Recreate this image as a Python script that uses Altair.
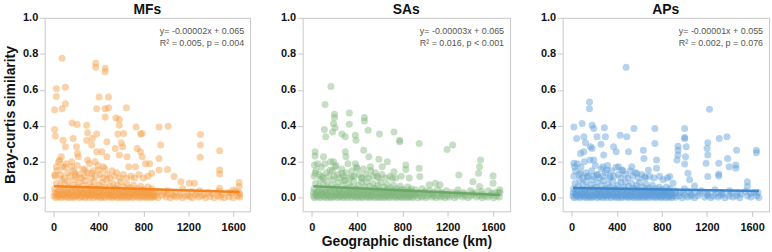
import altair as alt
import pandas as pd

FONT = "Liberation Sans"

panel_names = ["MFs", "SAs", "APs"]
slopes = [-0.00002, -0.00003, -0.00001]
intercepts = [0.065, 0.065, 0.055]
eq_texts = ["y= -0.00002x + 0.065", "y= -0.00003x + 0.065", "y= -0.00001x + 0.055"]
stat_texts = ["R² = 0.005, p = 0.004", "R² = 0.016, p < 0.001", "R² = 0.002, p = 0.076"]
point_colors = ["#f39d45", "#80b67d", "#5e9dd8"]
line_colors = ["#f5841f", "#6aa866", "#3f87cc"]
x_ticks = [0, 400, 800, 1200, 1600]
y_ticks = [0.0, 0.2, 0.4, 0.6, 0.8, 1.0]

# MFs (distance km, Bray-Curtis similarity)
mf_points = [
    (75, 0.775), (375, 0.748), (375, 0.726), (459, 0.72), (459, 0.70), (24, 0.606), (105, 0.615),
    (24, 0.563), (9, 0.49), (75, 0.495), (105, 0.523), (405, 0.56), (489, 0.56), (384, 0.495),
    (459, 0.495), (489, 0.50), (459, 0.449), (648, 0.50), (555, 0.444), (585, 0.436), (585, 0.403),
    (573, 0.354), (9, 0.379), (15, 0.343), (165, 0.416), (210, 0.407), (294, 0.403), (303, 0.361),
    (345, 0.33), (294, 0.32), (339, 0.293), (174, 0.33), (204, 0.284), (213, 0.247), (384, 0.354),
    (735, 0.394), (774, 0.354), (789, 0.357), (939, 0.394), (1020, 0.398), (954, 0.293), (939, 0.219),
    (1014, 0.158), (939, 0.155), (1308, 0.352), (1308, 0.293), (1305, 0.225), (1479, 0.262),
    (1479, 0.155), (1479, 0.133), (1653, 0.085), (1653, 0.063), (744, 0.274), (774, 0.256),
    (789, 0.228), (729, 0.173), (819, 0.19), (855, 0.19), (873, 0.136), (624, 0.357), (615, 0.284),
    (654, 0.228), (669, 0.173), (603, 0.306), (549, 0.274), (585, 0.238), (474, 0.311), (429, 0.256),
    (474, 0.228), (444, 0.173), (384, 0.256), (369, 0.2), (399, 0.155), (303, 0.21), (279, 0.155),
    (339, 0.136), (219, 0.228), (159, 0.173), (189, 0.136), (84, 0.32), (105, 0.284), (54, 0.21),
    (99, 0.173), (24, 0.173), (9, 0.127), (69, 0.228), (1134, 0.09), (1209, 0.081), (1254, 0.081),
    (1074, 0.118), (1479, 0.053), (1599, 0.044),
    (5, 0.01), (18, 0.0), (30, 0.02), (42, 0.005), (55, 0.015), (68, 0.0), (80, 0.01), (92, 0.02),
    (105, 0.005), (118, 0.012), (130, 0.0), (142, 0.018), (155, 0.008), (168, 0.0), (180, 0.015),
    (192, 0.004), (205, 0.01), (218, 0.02), (230, 0.0), (242, 0.012), (255, 0.006), (268, 0.018),
    (280, 0.0), (292, 0.01), (305, 0.015), (318, 0.002), (330, 0.012), (342, 0.02), (355, 0.0),
    (368, 0.01), (380, 0.016), (392, 0.004), (405, 0.01), (418, 0.0), (430, 0.018), (442, 0.008),
    (455, 0.0), (468, 0.012), (480, 0.02), (492, 0.005), (505, 0.01), (518, 0.0), (530, 0.015),
    (542, 0.006), (555, 0.012), (568, 0.0), (580, 0.018), (592, 0.008), (605, 0.0), (618, 0.012),
    (630, 0.004), (642, 0.016), (655, 0.0), (668, 0.01), (680, 0.005), (692, 0.015), (705, 0.0),
    (718, 0.01), (730, 0.02), (742, 0.004), (755, 0.01), (768, 0.0), (780, 0.015), (792, 0.006),
    (805, 0.01), (818, 0.0), (830, 0.012), (842, 0.004), (855, 0.018), (868, 0.0), (880, 0.01),
    (892, 0.005), (905, 0.01), (930, 0.0), (962, 0.015), (1000, 0.005), (1012, 0.02), (1040, 0.0),
    (1068, 0.01), (1095, 0.004), (1120, 0.012), (1150, 0.0), (1178, 0.01), (1210, 0.006),
    (1235, 0.0), (1262, 0.015), (1290, 0.004), (1320, 0.01), (1352, 0.0), (1392, 0.008),
    (1430, 0.0), (1462, 0.012), (1485, 0.004), (1520, 0.0), (1562, 0.008), (1600, 0.0),
    (1640, 0.012), (1658, 0.004), (1658, 0.02),
    (10, 0.05), (25, 0.08), (40, 0.035), (58, 0.065), (72, 0.1), (88, 0.045), (100, 0.075),
    (115, 0.03), (128, 0.09), (140, 0.055), (158, 0.04), (172, 0.07), (186, 0.1), (198, 0.035),
    (212, 0.06), (226, 0.085), (240, 0.045), (254, 0.03), (266, 0.07), (280, 0.095), (296, 0.05),
    (310, 0.035), (322, 0.075), (336, 0.06), (350, 0.04), (362, 0.09), (378, 0.05), (390, 0.03),
    (404, 0.07), (418, 0.045), (432, 0.085), (446, 0.035), (460, 0.06), (474, 0.1), (488, 0.04),
    (500, 0.065), (515, 0.03), (528, 0.08), (542, 0.05), (556, 0.035), (570, 0.07), (584, 0.045),
    (598, 0.09), (612, 0.03), (626, 0.06), (640, 0.04), (654, 0.075), (668, 0.03), (684, 0.055),
    (698, 0.04), (712, 0.07), (728, 0.03), (744, 0.05), (760, 0.035), (776, 0.065), (790, 0.03),
    (808, 0.045), (824, 0.03), (840, 0.06), (858, 0.035), (874, 0.05), (890, 0.03),
    (940, 0.035), (1010, 0.04), (1080, 0.03), (1150, 0.05), (1230, 0.035), (1300, 0.04),
    (1380, 0.03), (1470, 0.035), (1560, 0.03), (1620, 0.035),
    (15, 0.12), (30, 0.15), (45, 0.2), (62, 0.13), (78, 0.17), (95, 0.11), (110, 0.19), (125, 0.14),
    (145, 0.12), (160, 0.2), (178, 0.15), (195, 0.12), (210, 0.18), (228, 0.13), (245, 0.11),
    (262, 0.16), (278, 0.12), (300, 0.14), (318, 0.19), (335, 0.11), (352, 0.15), (372, 0.12),
    (395, 0.18), (415, 0.13), (438, 0.11), (455, 0.16), (478, 0.13), (500, 0.11), (520, 0.15),
    (540, 0.12), (562, 0.14), (590, 0.11), (620, 0.13), (650, 0.11), (690, 0.12), (720, 0.11),
    (760, 0.13), (800, 0.11), (840, 0.12),
    (12, 0.03), (36, 0.025), (62, 0.04), (86, 0.03), (112, 0.045), (136, 0.025), (164, 0.035),
    (190, 0.05), (214, 0.025), (236, 0.04), (262, 0.03), (286, 0.045), (312, 0.025), (334, 0.04),
    (360, 0.03), (386, 0.05), (410, 0.025), (436, 0.035), (462, 0.045), (486, 0.025), (512, 0.04),
    (536, 0.03), (562, 0.05), (588, 0.025), (612, 0.04), (636, 0.03), (662, 0.045), (688, 0.025),
    (714, 0.035), (738, 0.04), (764, 0.025), (788, 0.045), (812, 0.03), (836, 0.025), (862, 0.04),
    (886, 0.02), (918, 0.025), (985, 0.03), (1055, 0.02), (1135, 0.025), (1195, 0.02),
    (1275, 0.025), (1340, 0.02), (1410, 0.025), (1500, 0.02), (1585, 0.025), (1650, 0.03),
]

# SAs
sa_points = [
    (169, 0.619), (118, 0.519), (201, 0.464), (201, 0.446), (332, 0.471), (465, 0.446), (465, 0.427),
    (112, 0.379), (124, 0.339), (192, 0.413), (207, 0.39), (184, 0.366), (267, 0.354), (296, 0.339),
    (385, 0.348), (391, 0.32), (332, 0.409), (498, 0.376), (598, 0.354), (726, 0.366), (776, 0.32),
    (776, 0.311), (948, 0.302), (1194, 0.269), (1244, 0.293), (30, 0.256), (30, 0.232), (24, 0.182),
    (30, 0.136), (104, 0.228), (192, 0.2), (207, 0.173), (163, 0.155), (296, 0.256), (302, 0.228),
    (385, 0.19), (400, 0.164), (504, 0.228), (518, 0.173), (459, 0.265), (593, 0.214), (622, 0.173),
    (667, 0.2), (830, 0.182), (830, 0.158), (948, 0.164), (954, 0.118), (1490, 0.21), (1481, 0.173),
    (1472, 0.136), (1298, 0.127), (1600, 0.122), (1037, 0.072), (1132, 0.072), (1090, 0.081),
    (1422, 0.09), (1481, 0.063), (1600, 0.081), (726, 0.145), (711, 0.109), (267, 0.136),
    (89, 0.118), (355, 0.118), (296, 0.1), (444, 0.109), (578, 0.118),
    (15, 0.01), (26, 0.0), (38, 0.018), (50, 0.006), (62, 0.014), (74, 0.0), (86, 0.01), (98, 0.02),
    (110, 0.004), (122, 0.012), (134, 0.0), (146, 0.016), (158, 0.008), (170, 0.0), (182, 0.014),
    (194, 0.004), (206, 0.01), (218, 0.02), (230, 0.0), (242, 0.012), (254, 0.006), (266, 0.016),
    (278, 0.0), (290, 0.01), (302, 0.014), (314, 0.002), (326, 0.012), (338, 0.02), (350, 0.0),
    (362, 0.01), (374, 0.016), (386, 0.004), (398, 0.01), (410, 0.0), (422, 0.018), (434, 0.008),
    (446, 0.0), (458, 0.012), (470, 0.02), (482, 0.005), (494, 0.01), (506, 0.0), (518, 0.015),
    (530, 0.006), (542, 0.012), (554, 0.0), (566, 0.018), (578, 0.008), (590, 0.0), (602, 0.012),
    (614, 0.004), (626, 0.016), (638, 0.0), (650, 0.01), (662, 0.005), (674, 0.015), (686, 0.0),
    (698, 0.01), (710, 0.02), (722, 0.004), (734, 0.01), (746, 0.0), (758, 0.015), (770, 0.006),
    (782, 0.01), (794, 0.0), (806, 0.012), (818, 0.004), (830, 0.018), (842, 0.0), (854, 0.01),
    (866, 0.005), (878, 0.012), (890, 0.0), (905, 0.01), (920, 0.02), (938, 0.0), (955, 0.012),
    (972, 0.004), (990, 0.015), (1008, 0.0), (1025, 0.01), (1045, 0.02), (1062, 0.004),
    (1080, 0.012), (1098, 0.0), (1118, 0.015), (1135, 0.005), (1155, 0.01), (1175, 0.0),
    (1195, 0.012), (1215, 0.004), (1238, 0.016), (1262, 0.0), (1285, 0.01), (1305, 0.02),
    (1330, 0.004), (1355, 0.012), (1380, 0.0), (1405, 0.01), (1430, 0.018), (1455, 0.004),
    (1480, 0.012), (1505, 0.0), (1530, 0.01), (1555, 0.004), (1580, 0.015), (1605, 0.0),
    (1630, 0.01), (1655, 0.004), (1660, 0.03), (1660, 0.045),
    (20, 0.05), (34, 0.08), (48, 0.035), (64, 0.065), (78, 0.1), (92, 0.045), (106, 0.075),
    (120, 0.03), (134, 0.09), (148, 0.055), (162, 0.04), (176, 0.07), (190, 0.1), (204, 0.035),
    (218, 0.06), (232, 0.085), (246, 0.045), (260, 0.03), (274, 0.07), (288, 0.095), (302, 0.05),
    (316, 0.035), (330, 0.075), (344, 0.06), (358, 0.04), (372, 0.09), (386, 0.05), (400, 0.03),
    (414, 0.07), (428, 0.045), (442, 0.085), (456, 0.035), (470, 0.06), (484, 0.09), (498, 0.04),
    (512, 0.065), (526, 0.03), (540, 0.08), (554, 0.05), (568, 0.035), (582, 0.07), (596, 0.045),
    (610, 0.085), (624, 0.03), (638, 0.06), (652, 0.04), (666, 0.075), (680, 0.03), (694, 0.055),
    (708, 0.04), (722, 0.07), (736, 0.03), (750, 0.05), (766, 0.035), (782, 0.065), (798, 0.03),
    (814, 0.045), (830, 0.03), (846, 0.06), (862, 0.035), (878, 0.05), (894, 0.03), (915, 0.045),
    (945, 0.03), (975, 0.05), (1005, 0.035), (1040, 0.04), (1075, 0.03), (1110, 0.045),
    (1150, 0.03), (1190, 0.04), (1240, 0.03), (1290, 0.045), (1340, 0.03), (1400, 0.04),
    (1450, 0.03), (1500, 0.035), (1560, 0.04), (1620, 0.03),
    (22, 0.12), (36, 0.15), (52, 0.19), (68, 0.13), (84, 0.17), (100, 0.11), (116, 0.19),
    (130, 0.14), (150, 0.12), (166, 0.2), (182, 0.15), (198, 0.12), (214, 0.18), (230, 0.13),
    (248, 0.11), (264, 0.16), (280, 0.12), (304, 0.14), (320, 0.19), (338, 0.11), (356, 0.15),
    (376, 0.12), (396, 0.17), (416, 0.13), (438, 0.11), (456, 0.16), (478, 0.13), (500, 0.11),
    (520, 0.15), (540, 0.12), (562, 0.14), (590, 0.11), (620, 0.13), (650, 0.11), (690, 0.12),
    (740, 0.11), (790, 0.12), (860, 0.11),
    (16, 0.03), (40, 0.025), (66, 0.04), (90, 0.03), (116, 0.045), (140, 0.025), (168, 0.035),
    (194, 0.05), (218, 0.025), (240, 0.04), (266, 0.03), (290, 0.045), (316, 0.025), (338, 0.04),
    (364, 0.03), (390, 0.05), (414, 0.025), (440, 0.035), (466, 0.045), (490, 0.025), (516, 0.04),
    (540, 0.03), (566, 0.05), (592, 0.025), (616, 0.04), (640, 0.03), (666, 0.045), (692, 0.025),
    (718, 0.035), (742, 0.04), (768, 0.025), (792, 0.045), (816, 0.03), (840, 0.025), (866, 0.04),
    (890, 0.02), (925, 0.025), (990, 0.03), (1060, 0.02), (1140, 0.025), (1200, 0.02),
    (1280, 0.025), (1345, 0.02), (1415, 0.025), (1505, 0.02), (1590, 0.025), (1648, 0.03),
]

# APs
ap_points = [
    (483, 0.726), (158, 0.532), (158, 0.495), (1222, 0.492), (20, 0.394), (93, 0.413), (181, 0.403),
    (196, 0.385), (290, 0.39), (553, 0.385), (738, 0.385), (1002, 0.385), (1002, 0.335),
    (1002, 0.33), (44, 0.33), (108, 0.339), (123, 0.306), (225, 0.339), (299, 0.339), (430, 0.348),
    (489, 0.339), (372, 0.284), (395, 0.256), (260, 0.298), (504, 0.256), (636, 0.265),
    (641, 0.219), (738, 0.302), (753, 0.21), (753, 0.164), (943, 0.287), (943, 0.265),
    (943, 0.238), (934, 0.21), (1016, 0.284), (1010, 0.228), (1002, 0.188), (1031, 0.136),
    (1046, 0.1), (1090, 0.066), (1207, 0.306), (1201, 0.274), (1207, 0.238), (1192, 0.192),
    (1207, 0.118), (1309, 0.33), (1304, 0.192), (1304, 0.133), (1304, 0.122), (1377, 0.339),
    (1383, 0.219), (1397, 0.173), (1462, 0.265), (1456, 0.182), (1456, 0.164), (1638, 0.265),
    (1638, 0.25), (1558, 0.09), (1558, 0.063), (20, 0.192), (26, 0.173), (79, 0.247), (108, 0.256),
    (167, 0.284), (181, 0.274), (196, 0.21), (284, 0.238), (278, 0.173), (313, 0.155), (416, 0.173),
    (445, 0.155), (533, 0.173), (577, 0.136), (650, 0.118), (680, 0.155), (811, 0.1), (870, 0.118),
    (899, 0.081), (79, 0.136), (137, 0.118), (225, 0.127), (343, 0.118),
    (12, 0.01), (24, 0.0), (36, 0.018), (48, 0.006), (60, 0.014), (72, 0.0), (84, 0.01), (96, 0.02),
    (108, 0.004), (120, 0.012), (132, 0.0), (144, 0.016), (156, 0.008), (168, 0.0), (180, 0.014),
    (192, 0.004), (204, 0.01), (216, 0.02), (228, 0.0), (240, 0.012), (252, 0.006), (264, 0.016),
    (276, 0.0), (288, 0.01), (300, 0.014), (312, 0.002), (324, 0.012), (336, 0.02), (348, 0.0),
    (360, 0.01), (372, 0.016), (384, 0.004), (396, 0.01), (408, 0.0), (420, 0.018), (432, 0.008),
    (444, 0.0), (456, 0.012), (468, 0.02), (480, 0.005), (492, 0.01), (504, 0.0), (516, 0.015),
    (528, 0.006), (540, 0.012), (552, 0.0), (564, 0.018), (576, 0.008), (588, 0.0), (600, 0.012),
    (612, 0.004), (624, 0.016), (636, 0.0), (648, 0.01), (660, 0.005), (672, 0.015), (684, 0.0),
    (696, 0.01), (708, 0.02), (720, 0.004), (732, 0.01), (744, 0.0), (756, 0.015), (768, 0.006),
    (780, 0.01), (792, 0.0), (804, 0.012), (816, 0.004), (828, 0.018), (840, 0.0), (852, 0.01),
    (864, 0.005), (876, 0.012), (888, 0.0), (900, 0.01), (925, 0.004), (950, 0.012), (980, 0.0),
    (1005, 0.015), (1030, 0.004), (1060, 0.01), (1090, 0.0), (1120, 0.012), (1180, 0.004),
    (1210, 0.012), (1235, 0.0), (1260, 0.01), (1300, 0.004), (1320, 0.014), (1360, 0.0),
    (1395, 0.01), (1430, 0.004), (1460, 0.012), (1490, 0.0), (1560, 0.01), (1590, 0.004),
    (1640, 0.012), (1660, 0.002),
    (18, 0.05), (30, 0.08), (44, 0.035), (58, 0.065), (72, 0.1), (86, 0.045), (100, 0.075),
    (114, 0.03), (128, 0.09), (142, 0.055), (156, 0.04), (170, 0.07), (184, 0.1), (198, 0.035),
    (212, 0.06), (226, 0.085), (240, 0.045), (254, 0.03), (268, 0.07), (282, 0.095), (296, 0.05),
    (310, 0.035), (324, 0.075), (338, 0.06), (352, 0.04), (366, 0.09), (380, 0.05), (394, 0.03),
    (408, 0.07), (422, 0.045), (436, 0.085), (450, 0.035), (464, 0.06), (478, 0.09), (492, 0.04),
    (506, 0.065), (520, 0.03), (534, 0.08), (548, 0.05), (562, 0.035), (576, 0.07), (590, 0.045),
    (604, 0.085), (618, 0.03), (632, 0.06), (646, 0.04), (660, 0.075), (674, 0.03), (688, 0.055),
    (702, 0.04), (716, 0.07), (730, 0.03), (744, 0.05), (760, 0.035), (776, 0.06), (792, 0.03),
    (808, 0.045), (824, 0.03), (840, 0.06), (856, 0.035), (872, 0.05), (888, 0.03), (920, 0.04),
    (960, 0.03), (1000, 0.05), (1040, 0.035), (1090, 0.03), (1150, 0.04), (1210, 0.03),
    (1270, 0.045), (1330, 0.03), (1400, 0.04), (1470, 0.03), (1540, 0.035), (1620, 0.03),
    (20, 0.12), (34, 0.15), (50, 0.19), (66, 0.13), (82, 0.17), (98, 0.11), (112, 0.2),
    (128, 0.14), (146, 0.12), (162, 0.21), (178, 0.15), (194, 0.12), (210, 0.18), (228, 0.13),
    (246, 0.11), (262, 0.16), (278, 0.12), (300, 0.14), (318, 0.18), (336, 0.11), (354, 0.15),
    (374, 0.12), (394, 0.17), (414, 0.13), (436, 0.11), (456, 0.15), (476, 0.13), (500, 0.11),
    (520, 0.15), (542, 0.12), (564, 0.14), (592, 0.11), (620, 0.13), (652, 0.11), (690, 0.12),
    (730, 0.11), (780, 0.12), (850, 0.11),
    (14, 0.03), (38, 0.025), (64, 0.04), (88, 0.03), (114, 0.045), (138, 0.025), (166, 0.035),
    (192, 0.05), (216, 0.025), (238, 0.04), (264, 0.03), (288, 0.045), (314, 0.025), (336, 0.04),
    (362, 0.03), (388, 0.05), (412, 0.025), (438, 0.035), (464, 0.045), (488, 0.025), (514, 0.04),
    (538, 0.03), (564, 0.05), (590, 0.025), (614, 0.04), (638, 0.03), (664, 0.045), (690, 0.025),
    (716, 0.035), (740, 0.04), (766, 0.025), (790, 0.045), (814, 0.03), (838, 0.025), (864, 0.04),
    (888, 0.02), (922, 0.025), (988, 0.03), (1058, 0.02), (1138, 0.025), (1198, 0.02),
    (1278, 0.025), (1342, 0.02), (1412, 0.025), (1502, 0.02), (1588, 0.025), (1652, 0.03),
]

all_points = [mf_points, sa_points, ap_points]
panel_widths = [207, 209, 208]
HEIGHT = 195

x_scale = alt.Scale(domain=[-80, 1750], nice=False, zero=False)
y_scale = alt.Scale(domain=[-0.075, 1.0], nice=False, zero=False)


def make_panel(i):
    df = pd.DataFrame(all_points[i], columns=["dist", "sim"])
    line_df = pd.DataFrame({"dist": [df["dist"].min(), df["dist"].max()]})
    line_df["sim"] = intercepts[i] + slopes[i] * line_df["dist"]
    w = panel_widths[i]

    x_axis = alt.Axis(values=x_ticks, format="d", labelOverlap=False, tickCount=5, labelPadding=5,
                      title="Geographic distance (km)" if i == 1 else None, titlePadding=2)
    y_axis = alt.Axis(values=y_ticks, format=".1f", labelOverlap=False, tickCount=6,
                      title="Bray-curtis similarity" if i == 0 else None, titlePadding=5)
    x_enc = alt.X("dist:Q", scale=x_scale, axis=x_axis)
    y_enc = alt.Y("sim:Q", scale=y_scale, axis=y_axis)

    pts = alt.Chart(df).mark_circle(size=50, opacity=0.45, color=point_colors[i]).encode(
        x=x_enc, y=y_enc,
    )
    line = alt.Chart(line_df).mark_line(color=line_colors[i], strokeWidth=2.5).encode(
        x=x_enc, y=y_enc,
    )
    ann = pd.DataFrame({"t": [eq_texts[i], stat_texts[i]], "row": [0, 1]})
    t1 = alt.Chart(ann).transform_filter("datum.row == 0").mark_text(
        align="right", baseline="middle", fontSize=9, color="#555555", font=FONT
    ).encode(text="t:N", x=alt.value(w - 6), y=alt.value(13))
    t2 = alt.Chart(ann).transform_filter("datum.row == 1").mark_text(
        align="right", baseline="middle", fontSize=9, color="#555555", font=FONT
    ).encode(text="t:N", x=alt.value(w - 6), y=alt.value(25))
    return alt.layer(pts, line, t1, t2).properties(
        width=w, height=HEIGHT,
        title=alt.TitleParams(panel_names[i], fontSize=14, fontWeight="bold", font=FONT,
                              color="#111111", offset=-5),
    )


chart = alt.hconcat(*[make_panel(i) for i in range(3)], spacing=29).properties(
    padding={"left": 3, "top": 1, "right": 2, "bottom": 2}
).configure_view(stroke="#c8c8c8", strokeWidth=1).configure_axis(
    grid=False, domain=False, tickColor="#c8c8c8", tickSize=5,
    labelFont=FONT, labelFontWeight="bold", labelFontSize=11, labelColor="#111111", labelPadding=2,
    titleFont=FONT, titleFontWeight="bold", titleFontSize=14, titleColor="#111111",
).configure_concat(spacing=29)

chart.save("out.html", embed_options={"renderer": "svg", "actions": False})
